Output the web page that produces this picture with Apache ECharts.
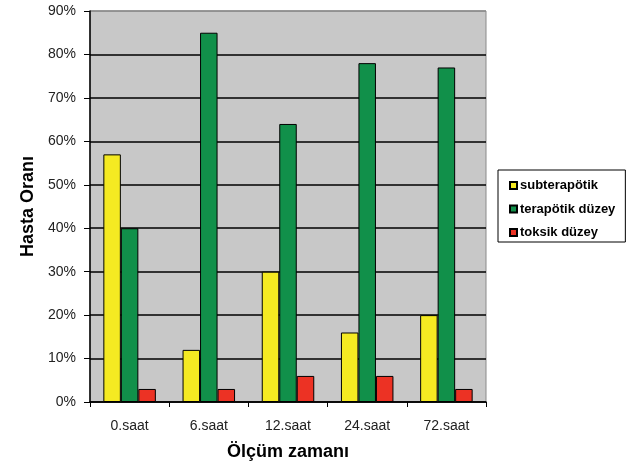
<!DOCTYPE html>
<html><head><meta charset="utf-8">
<script src="https://cdn.jsdelivr.net/npm/echarts@6/dist/echarts.min.js"></script>
<style>html,body{margin:0;padding:0;background:#fff}#c{width:627px;height:464px}</style>
</head><body><div id="c"></div>
<script>
var categories = ['0.saat','6.saat','12.saat','24.saat','72.saat'];
var subterapotik = [57, 12, 30, 16, 20];
var terapotik = [40, 85, 64, 78, 77];
var toksik = [3, 3, 6, 6, 3];
var seriesNames = ['subterapötik','terapötik düzey','toksik düzey'];
var colors = ['#f5ea22','#11904a','#ec3224'];

var chart = echarts.init(document.getElementById('c'), null, {renderer:'canvas'});
var font = '"Liberation Sans", Arial, sans-serif';
function bar(name, data, color){
  return {name:name, type:'bar', data:data, barWidth:17.5, barGap:'0%',
    itemStyle:{color:color, borderColor:'#000', borderWidth:1}};
}
var splitColors = ['#000','#000','#000','#000','#000','#000','#000','#000','#000','#8a8a8a'];
chart.setOption({
  animation:false,
  grid:{left:90, top:11, right:141, bottom:62, containLabel:false, outerBoundsMode:'none',
    show:true, backgroundColor:'#c8c8c8', borderColor:'#8a8a8a', borderWidth:1},
  legend:{orient:'vertical', left:498, top:170, itemWidth:7, itemHeight:7, itemGap:10.5,
    padding:[9,10,3,11], borderColor:'#000', borderWidth:1, icon:'rect',
    textStyle:{fontFamily:font, fontWeight:'bold', fontSize:13, color:'#000', padding:[0,0,0,-2]},
    data:seriesNames},
  xAxis:{type:'category', data:categories,
    name:'Ölçüm zamanı', nameLocation:'middle', nameGap:41,
    nameTextStyle:{fontFamily:font, fontWeight:'bold', fontSize:18, color:'#000'},
    axisLine:{lineStyle:{color:'#000', width:1.5}},
    axisTick:{show:true, alignWithLabel:false, length:5, lineStyle:{color:'#000'}},
    axisLabel:{fontFamily:font, fontSize:14, color:'#222', margin:17}},
  yAxis:{type:'value', min:0, max:90, interval:10,
    name:'Hasta Oranı', nameLocation:'middle', nameGap:53,
    nameTextStyle:{fontFamily:font, fontWeight:'bold', fontSize:18, color:'#000'},
    axisLine:{show:true, lineStyle:{color:'#000', width:1.5}},
    axisTick:{show:true, length:6, lineStyle:{color:'#000'}},
    axisLabel:{fontFamily:font, fontSize:14, color:'#222', margin:14, formatter:'{value}%'},
    splitLine:{show:true, lineStyle:{color:splitColors, width:1.5}}},
  series:[bar(seriesNames[0], subterapotik, colors[0]), bar(seriesNames[1], terapotik, colors[1]), bar(seriesNames[2], toksik, colors[2])]
});
</script></body></html>
